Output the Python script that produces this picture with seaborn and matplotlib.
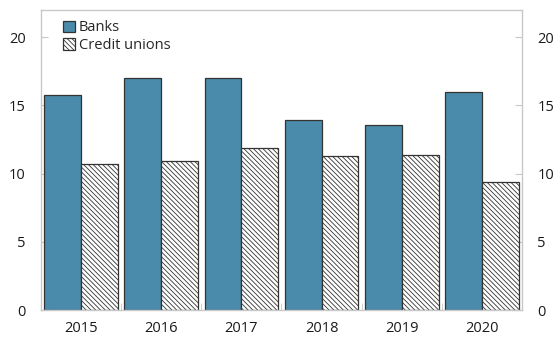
import pandas as pd
import seaborn as sns
import matplotlib.pyplot as plt
from matplotlib.ticker import FixedLocator

years = ["2015", "2016", "2017", "2018", "2019", "2020"]
banks = [15.8, 17.0, 17.0, 13.9, 13.6, 16.0]
credit_unions = [10.7, 10.9, 11.9, 11.3, 11.4, 9.4]
series = ["Banks", "Credit unions"]

df = pd.DataFrame({
    "year": years * 2,
    "value": banks + credit_unions,
    "type": [series[0]] * len(years) + [series[1]] * len(years),
})

sns.set_style("white")
plt.rcParams["font.family"] = ["Open Sans", "DejaVu Sans"]
plt.rcParams["hatch.linewidth"] = 0.6

fig = plt.figure(figsize=(5.56, 3.39), dpi=100)
ax = fig.add_axes([41 / 556, 1 - 310 / 339, 481 / 556, 300 / 339])

sns.barplot(data=df, x="year", y="value", hue="type", hue_order=series,
            palette={"Banks": "#4a8aab", "Credit unions": "white"},
            saturation=1, width=0.92, gap=0, edgecolor="#333333",
            linewidth=0.9, ax=ax, legend=False)

for bar in ax.containers[1]:
    bar.set_hatch("\\" * 7)

ax.set_xlim(-0.5, 5.5)
ax.set_ylim(0, 22)
ax.set_yticks([0, 5, 10, 15, 20])
ax.set_xlabel("")
ax.set_ylabel("")

grey = "#c8c8c8"
for s in ax.spines.values():
    s.set_color(grey)
    s.set_linewidth(1)

ax.tick_params(axis="y", which="both", direction="in", length=5, color=grey,
               left=True, right=True, labelleft=True, labelright=True,
               labelsize=10.5, pad=11, labelcolor="#1a1a1a")
ax.tick_params(axis="x", which="major", length=0, labelsize=10.5, pad=8,
               labelcolor="#1a1a1a")
ax.xaxis.set_minor_locator(FixedLocator([0.5, 1.5, 2.5, 3.5, 4.5]))
ax.tick_params(axis="x", which="minor", direction="in", length=5, color=grey,
               bottom=True)

ax.legend(handles=[ax.containers[0], ax.containers[1]], labels=series,
          loc="upper left", bbox_to_anchor=(0.025, 1.0), frameon=False,
          prop={"size": 10.5}, handlelength=0.8, handleheight=0.8,
          handletextpad=0.25, labelspacing=0.2, borderaxespad=0.3)

fig.savefig("out.png", dpi=100)
